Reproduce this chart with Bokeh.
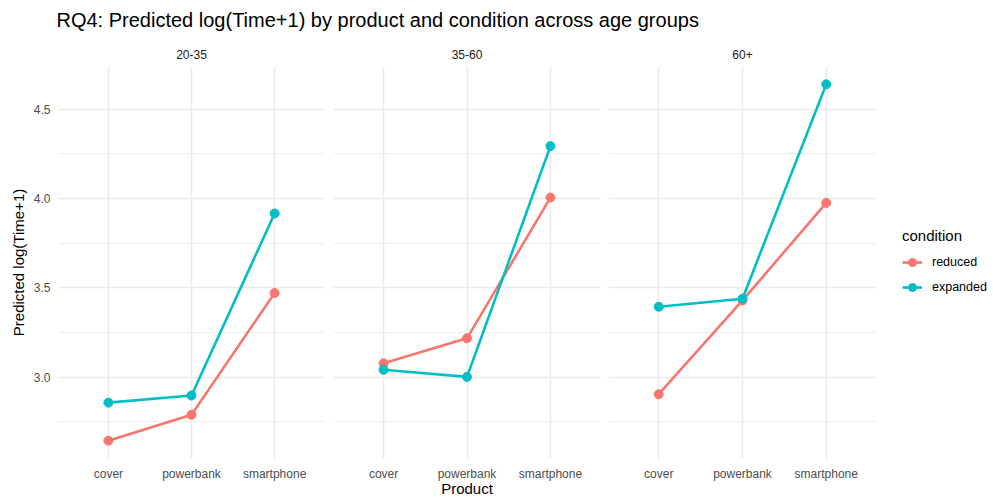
from bokeh.plotting import figure
from bokeh.models import (FactorRange, Range1d, SingleIntervalTicker,
                          NumeralTickFormatter, Legend, LegendItem)
from bokeh.layouts import column, row
from bokeh.embed import file_html
from bokeh.resources import INLINE

# ---------------- data ----------------
title_text = "RQ4: Predicted log(Time+1) by product and condition across age groups"
age_groups = ["20-35", "35-60", "60+"]
products = ["cover", "powerbank", "smartphone"]
conditions = ["reduced", "expanded"]
colors = ["#F8766D", "#00BFC4"]

reduced_20_35 = [2.645, 2.790, 3.472]
expanded_20_35 = [2.858, 2.898, 3.917]
reduced_35_60 = [3.078, 3.218, 4.006]
expanded_35_60 = [3.042, 3.002, 4.294]
reduced_60p = [2.905, 3.430, 3.976]
expanded_60p = [3.395, 3.440, 4.640]

panel_data = {
    "20-35": [reduced_20_35, expanded_20_35],
    "35-60": [reduced_35_60, expanded_35_60],
    "60+": [reduced_60p, expanded_60p],
}

x_title = "Product"
y_title = "Predicted log(Time+1)"
legend_title = "condition"

# ---------------- styling ----------------
FONT = "Liberation Sans"
GRID = "#EBEBEB"
H = 463
LINE_W = 2.6
DOT = 9

all_vals = [v for pair in panel_data.values() for s in pair for v in s]
lo, hi = min(all_vals), max(all_vals)
pad = 0.05 * (hi - lo)
y_range = Range1d(lo - pad, hi + pad)


def make_panel(age, left, frame_w, right, first, xlabel):
    p = figure(
        x_range=FactorRange(factors=products, range_padding=0.1,
                            range_padding_units="absolute"),
        y_range=y_range,
        width=left + frame_w + right,
        height=H,
        output_backend="svg",
        toolbar_location=None,
        min_border_left=left,
        min_border_right=right,
        min_border_top=30,
        min_border_bottom=40,
        title=age,
    )
    p.outline_line_color = None
    p.background_fill_color = "white"
    p.border_fill_color = "white"

    p.title.text_font = FONT
    p.title.text_font_size = "12px"
    p.title.text_font_style = "normal"
    p.title.text_color = "#1A1A1A"
    p.title.align = "center"
    p.title.standoff = 16

    p.yaxis.ticker = SingleIntervalTicker(interval=0.5, num_minor_ticks=2)
    p.yaxis.formatter = NumeralTickFormatter(format="0.0")

    p.xgrid.grid_line_color = GRID
    p.xgrid.grid_line_width = 1.5
    p.ygrid.grid_line_color = GRID
    p.ygrid.grid_line_width = 1.5
    p.ygrid.minor_grid_line_color = GRID
    p.ygrid.minor_grid_line_width = 0.8

    for ax in p.axis:
        ax.axis_line_color = None
        ax.major_tick_line_color = None
        ax.minor_tick_line_color = None
        ax.major_tick_out = 0
        ax.major_tick_in = 0
        ax.minor_tick_out = 0
        ax.minor_tick_in = 0
        ax.major_label_text_font = FONT
        ax.major_label_text_font_size = "12px"
        ax.major_label_text_color = "#4D4D4D"
        ax.axis_label_text_font = FONT
        ax.axis_label_text_font_size = "15px"
        ax.axis_label_text_font_style = "normal"
        ax.axis_label_text_color = "black"

    p.xaxis.major_label_standoff = 8
    p.xaxis.axis_label_standoff = -4
    if xlabel:
        p.xaxis.axis_label = x_title

    if first:
        p.yaxis.major_label_standoff = 8
        p.yaxis.axis_label = y_title
        p.yaxis.axis_label_standoff = 4
    else:
        p.yaxis.visible = False

    vals = panel_data[age]
    for col, s in zip(colors, vals):
        p.line(x=products, y=s, line_color=col, line_width=LINE_W)
    for col, s in zip(colors, vals):
        p.scatter(x=products, y=s, fill_color=col, line_color=col, size=DOT)
    return p


f1 = make_panel("20-35", 58, 266, 4, True, False)
f2 = make_panel("35-60", 5, 267, 4, False, True)
f3 = make_panel("60+", 4, 268, 4, False, False)

# legend panel: same series, drawn outside its (empty) view so only the key shows
f4 = figure(width=113, height=H, x_range=FactorRange(factors=products),
            y_range=Range1d(0, 1), x_axis_type=None, y_axis_type=None,
            output_backend="svg", toolbar_location=None, min_border=0)
f4.outline_line_color = None
f4.grid.visible = False
items = []
for cond, col, s in zip(conditions, colors, panel_data["60+"]):
    lr = f4.line(x=products, y=s, line_color=col, line_width=LINE_W)
    sr = f4.scatter(x=products, y=s, fill_color=col, line_color=col, size=DOT)
    items.append(LegendItem(label=cond, renderers=[lr, sr]))
legend = Legend(items=items, location=(22, 161), title=legend_title)
legend.title_text_font = FONT
legend.title_text_font_size = "15px"
legend.title_text_font_style = "normal"
legend.title_text_color = "black"
legend.title_standoff = 8
legend.label_text_font = FONT
legend.label_text_font_size = "12.5px"
legend.label_text_color = "black"
legend.label_standoff = 10
legend.glyph_width = 20
legend.glyph_height = 20
legend.label_height = 20
legend.spacing = 5
legend.padding = 0
legend.margin = 0
legend.border_line_color = None
legend.background_fill_alpha = 0
f4.add_layout(legend)

# title strip
ft = figure(width=993, height=36, x_axis_type=None, y_axis_type=None,
            output_backend="svg", toolbar_location=None,
            min_border_left=49, min_border_top=30, min_border_right=0,
            min_border_bottom=0, title=title_text)
ft.outline_line_color = None
ft.grid.visible = False
ft.title.text_font = FONT
ft.title.text_font_size = "20px"
ft.title.text_font_style = "normal"
ft.title.text_color = "black"
ft.title.standoff = 0
ft.title.offset = 7

layout = column(ft, row(f1, f2, f3, f4, spacing=0), spacing=0)

open("out.html", "w").write(file_html(layout, INLINE))
